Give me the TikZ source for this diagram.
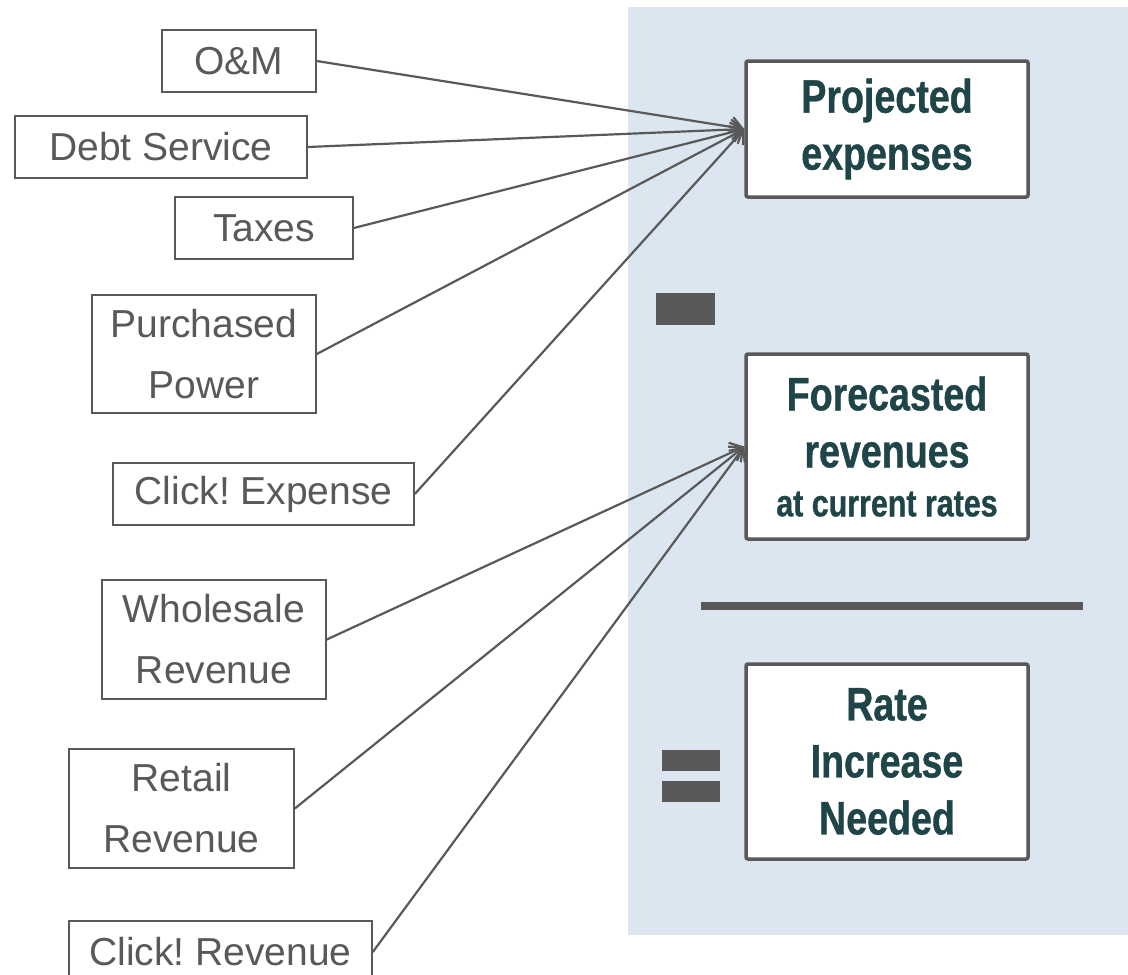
\documentclass[tikz,border=0pt]{standalone}
\usepackage{fontspec}
\setmainfont{Liberation Sans}
\newfontfamily\condfont[FakeStretch=0.8,FakeBold=0.8]{Liberation Sans}
\usetikzlibrary{arrows.meta}

\definecolor{panel}{RGB}{220,230,241}
\definecolor{ink}{RGB}{89,89,89}
\definecolor{head}{RGB}{31,69,72}

\begin{document}
\begin{tikzpicture}[x=1pt,y=-1pt,
  item/.style={draw=ink, line width=1.6pt, fill=white, text=ink, inner sep=0pt,
    align=center, font=\frenchspacing\fontsize{39}{61}\selectfont},
  total/.style={draw=ink, line width=3.5pt, rounded corners=2pt, fill=white, text=head,
    inner sep=0pt, align=center, minimum width=282pt,
    font=\condfont\bfseries\fontsize{47}{57}\selectfont},
  link/.style={draw=ink, line width=2.2pt, -{Straight Barb[length=11pt,width=20pt]}}]

  \useasboundingbox (0,0) rectangle (1128,975);
  \fill[panel] (628,7) rectangle (1128,935);

  \node[total, minimum height=136pt] (Pe) at (887,129) {Projected\\expenses};
  \node[total, minimum height=185pt] (Fr) at (887,446.5)
    {Forecasted\\revenues\\[-8pt]{\fontsize{38}{49}\selectfont at current rates}};
  \node[total, minimum height=195pt] (Ri) at (887,761.5) {Rate\\Increase\\Needed};

  \node[item, minimum width=154pt, minimum height=62pt] (OM) at (239,61) {O\&M};
  \node[item, minimum width=292pt, minimum height=62pt] (DS) at (161,147) {Debt Service};
  \node[item, minimum width=178pt, minimum height=62pt] (Tx) at (264,228) {Taxes};
  \node[item, minimum width=224pt, minimum height=118pt] (PP) at (204,354) {Purchased\\Power};
  \node[item, minimum width=301pt, minimum height=62pt] (CE) at (263.5,494) {Click! Expense};
  \node[item, minimum width=224pt, minimum height=119pt] (WR) at (214,639.5) {Wholesale\\Revenue};
  \node[item, minimum width=225pt, minimum height=119pt] (RR) at (181.5,808.5) {Retail\\Revenue};
  \node[item, minimum width=303pt, minimum height=62pt] (CR) at (220.5,952) {Click! Revenue};

  \draw[link] (OM.east) -- (Pe.west);
  \draw[link] (DS.east) -- (Pe.west);
  \draw[link] (Tx.east) -- (Pe.west);
  \draw[link] (PP.east) -- (Pe.west);
  \draw[link] (CE.east) -- (Pe.west);
  \draw[link] (WR.east) -- (Fr.west);
  \draw[link] (RR.east) -- (Fr.west);
  \draw[link] (CR.east) -- (Fr.west);

  \fill[ink] (656,293) rectangle (715,325);
  \fill[ink] (701,602) rectangle (1083,610);
  \fill[ink] (662,750) rectangle (720,771);
  \fill[ink] (662,781) rectangle (720,802);

\end{tikzpicture}
\end{document}
